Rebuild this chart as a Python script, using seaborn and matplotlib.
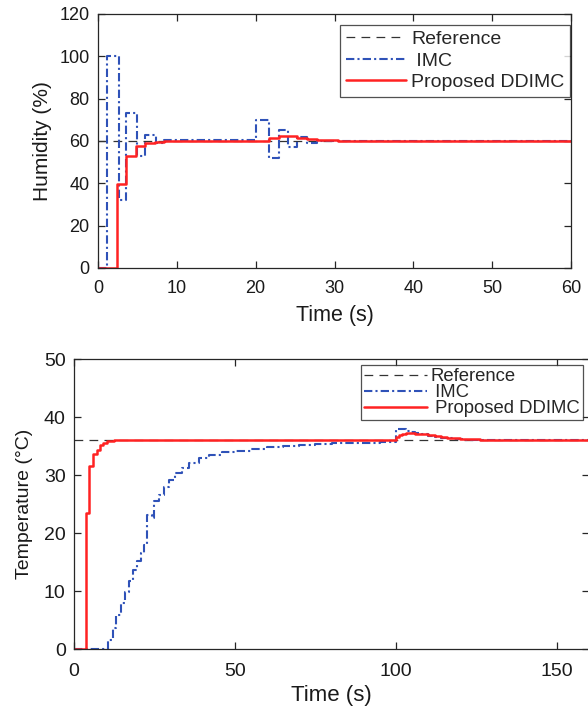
import numpy as np
import pandas as pd
import matplotlib
matplotlib.use("Agg")
import matplotlib.pyplot as plt
import seaborn as sns

# ---------------- data ----------------
# Humidity panel
hum_ref_t = [0, 60]
hum_ref = [60, 60]
hum_imc_t = [0, 1.1, 2.7, 3.6, 4.9, 6.0, 7.3, 8.4, 20.0, 21.7, 22.9, 24.1, 25.3, 26.5, 27.8, 60]
hum_imc = [0, 100, 32, 73, 53, 63, 59, 60.3, 70, 52, 65, 57, 62, 59, 60, 60]
hum_dd_t = [0, 2.4, 3.6, 4.8, 6.0, 7.2, 8.4, 21.7, 22.9, 25.3, 26.5, 27.8, 30.5, 60]
hum_dd = [0, 39.5, 53, 57.5, 59, 59.7, 60, 61.5, 62.5, 61.5, 60.8, 60.4, 60, 60]

# Temperature panel
temp_ref_t = [0, 160]
temp_ref = [36, 36]
temp_imc_t = [0, 10.6, 12.0, 13.2, 14.5, 15.7, 17.1, 18.4, 19.6, 20.9, 21.6, 22.8, 24.2, 25.0,
              26.5, 28.0, 29.4, 31.5, 33.6, 35.6, 38.7, 42, 46, 50, 55, 60, 65, 70, 75, 80,
              85, 90, 95, 99.9, 103.3, 104.5, 106, 108, 110, 112, 114, 116, 118, 121, 124,
              128, 132, 160]
temp_imc = [0, 1.5, 3.7, 5.9, 7.9, 9.9, 11.8, 13.6, 15.1, 16.5, 18.0, 23.1, 22.6, 25.6,
            26.6, 28.0, 29.1, 30.3, 31.2, 32.0, 32.9, 33.5, 33.9, 34.2, 34.5, 34.75, 35.0,
            35.2, 35.35, 35.45, 35.55, 35.6, 35.7, 37.9, 37.6, 37.4, 37.2, 37.0, 36.8,
            36.6, 36.45, 36.3, 36.2, 36.1, 36.05, 36.0, 35.95, 35.95]
temp_dd_t = [0, 3.7, 4.8, 6.0, 7.0, 8.1, 9.1, 10.2, 11.3, 12.4, 100, 101, 102, 103, 104,
             105, 106, 108, 110, 112, 114, 116, 118, 120, 123, 126, 130, 160]
temp_dd = [0, 23.4, 31.6, 33.6, 34.3, 35.2, 35.6, 35.8, 35.9, 36, 36.6, 36.9, 37.1, 37.25,
           37.3, 37.25, 37.15, 37.0, 36.85, 36.7, 36.55, 36.45, 36.35, 36.25, 36.15, 36.1,
           36.0, 36.0]

# ---------------- style ----------------
sns.set_style("white")
plt.rcParams["font.family"] = ["Liberation Sans", "DejaVu Sans"]
plt.rcParams["xtick.direction"] = "in"
plt.rcParams["ytick.direction"] = "in"

BLUE = "#2f52b8"
RED = "#ff2222"
REFC = "#333333"
AXC = "#262626"
TXT = "#1a1a1a"

fig = plt.figure(figsize=(5.88, 7.08), dpi=100)
ax1 = fig.add_axes([98/588, 1-268/708, (571-98)/588, (268-14)/708])
ax2 = fig.add_axes([74/588, 1-649/708, (589-74)/588, (649-359)/708])


def draw(ax, t_ref, y_ref, t_imc, y_imc, t_dd, y_dd, imc_lab, dd_lab):
    sns.lineplot(x=t_ref, y=y_ref, ax=ax, color=REFC, lw=0.9,
                 linestyle=(0, (7, 5)), label="Reference", estimator=None, sort=False)
    sns.lineplot(x=t_imc, y=y_imc, ax=ax, color=BLUE, lw=1.5, drawstyle="steps-post",
                 linestyle=(0, (4, 1.5, 1, 1.5)), label=imc_lab, estimator=None, sort=False)
    sns.lineplot(x=t_dd, y=y_dd, ax=ax, color=RED, lw=1.8, drawstyle="steps-post",
                 label=dd_lab, estimator=None, sort=False)


def style_axes(ax, xpad, ypad, size):
    for s in ax.spines.values():
        s.set_color(AXC)
        s.set_linewidth(0.9)
    ax.tick_params(axis="both", which="both", direction="in", length=5, width=0.9,
                   color=AXC, labelsize=size, labelcolor=TXT, top=True, right=True,
                   bottom=True, left=True)
    ax.tick_params(axis="x", pad=xpad)
    ax.tick_params(axis="y", pad=ypad)


draw(ax1, hum_ref_t, hum_ref, hum_imc_t, hum_imc, hum_dd_t, hum_dd, " IMC", "Proposed DDIMC")
ax1.set_xlim(0, 60)
ax1.set_ylim(0, 120)
ax1.set_xticks(np.arange(0, 61, 10))
ax1.set_yticks(np.arange(0, 121, 20))
style_axes(ax1, 8.5, 6, 13)
ax1.set_xlabel("Time (s)", fontsize=15.5, color=TXT, labelpad=6)
ax1.set_ylabel("Humidity (%)", fontsize=15, color=TXT, labelpad=5)
leg1 = ax1.legend(loc="upper right", bbox_to_anchor=(0.998, 0.958), fontsize=14,
                  frameon=True, fancybox=False, edgecolor=AXC, handlelength=3.1,
                  handletextpad=0.25, labelspacing=0.2, borderpad=0.3, borderaxespad=0)
leg1.get_frame().set_linewidth(0.9)

draw(ax2, temp_ref_t, temp_ref, temp_imc_t, temp_imc, temp_dd_t, temp_dd, " IMC", " Proposed DDIMC")
ax2.set_xlim(0, 160)
ax2.set_ylim(0, 50)
ax2.set_xticks([0, 50, 100, 150])
ax2.set_yticks(np.arange(0, 51, 10))
style_axes(ax2, 10, 6, 14)
ax2.set_xlabel("Time (s)", fontsize=16, color=TXT, labelpad=4)
ax2.set_ylabel("Temperature (°C)", fontsize=14, color=TXT, labelpad=8)
leg2 = ax2.legend(loc="upper right", bbox_to_anchor=(0.988, 0.978), fontsize=13.3,
                  frameon=True, fancybox=False, edgecolor=AXC, handlelength=3.4,
                  handletextpad=0.2, labelspacing=-0.05, borderpad=0.15, borderaxespad=0)
leg2.get_frame().set_linewidth(0.9)

fig.savefig("out.png", dpi=100)
